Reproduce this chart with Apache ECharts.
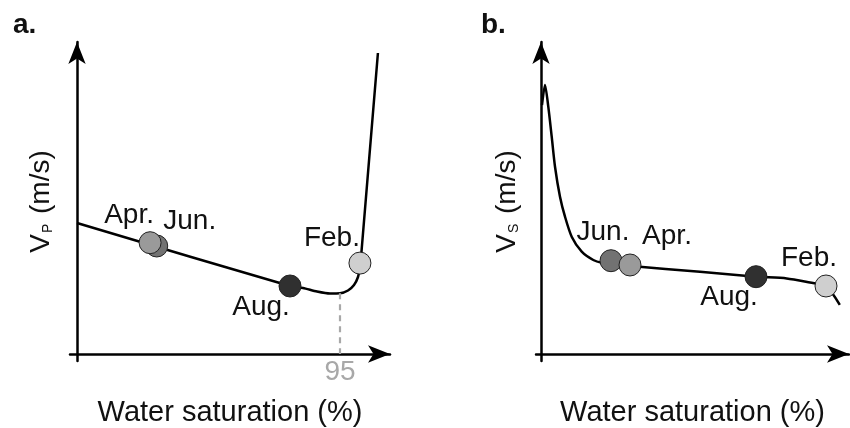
<!DOCTYPE html>
<html>
<head>
<meta charset="utf-8">
<script src="https://cdn.jsdelivr.net/npm/echarts@6/dist/echarts.min.js"></script>
<style>html,body{margin:0;padding:0;background:#fff;}#c{width:850px;height:428px;}</style>
</head>
<body>
<div id="c"></div>
<script>
// ---- Data (arbitrary units) ----
// Panel a: Vp vs water saturation
const curveA_x = [0, 76.94, 81.64, 86.69, 91.39, 95.0, 97.89, 100.06, 101.5, 102.2, 102.6, 102.9, 108.7];
const curveA_y = [43.67, 22.67, 22.0, 20.83, 20.17, 20.23, 21.17, 23.0, 25.67, 29.0, 32.33, 35.67, 100.33];
const monthsA = ['Jun.', 'Apr.', 'Aug.', 'Feb.'];
const pointsA_x = [28.8, 26.4, 76.94, 102.2];
const pointsA_y = [36.0, 37.1, 22.67, 30.3];
const criticalSat = 95;          // dashed marker value
const criticalSatVp = 20.23;     // curve value at 95 %
// Panel b: Vs vs water saturation
const curveB_x = [0.33, 1.33, 2.43, 3.57, 4.67, 6.33, 8.0, 10.23, 13.57, 17.43, 20.23, 23.33, 30.0, 53.0, 71.67, 81.9, 89.67, 95.0, 99.6];
const curveB_y = [83.0, 89.67, 82.43, 72.43, 62.43, 52.43, 45.77, 39.1, 34.1, 31.33, 30.43, 30.17, 29.33, 27.43, 25.77, 25.2, 23.8, 22.67, 16.4];
const monthsB = ['Jun.', 'Apr.', 'Aug.', 'Feb.'];
const pointsB_x = [23.33, 29.67, 71.67, 95.0];
const pointsB_y = [31.1, 29.67, 25.77, 22.67];
// Text
const xAxisName = 'Water saturation (%)';
const panelTitles = ['a.', 'b.'];

// ---- Styles / layout (kept separate from data) ----
const monthColor = { 'Apr.': '#9a9a9a', 'Jun.': '#727272', 'Aug.': '#303030', 'Feb.': '#cfcfcf' };
const labelOffsetA = { 'Apr.': [-21, -27], 'Jun.': [33, -25], 'Aug.': [-29, 21], 'Feb.': [-28, -25] };
const labelOffsetB = { 'Apr.': [37, -29], 'Jun.': [-8, -28], 'Aug.': [-27, 21], 'Feb.': [-17, -28] };
const FONT = '"Liberation Sans", Arial, Helvetica, sans-serif';

function zip(xs, ys) { return xs.map((x, i) => [x, ys[i]]); }
function pointData(months, xs, ys, offsets) {
  return months.map((m, i) => ({
    value: [xs[i], ys[i]],
    itemStyle: { color: monthColor[m] },
    label: { offset: offsets[m], formatter: m }
  }));
}

const axisLineStyle = {
  show: true,
  onZero: true,
  symbol: ['none', 'arrow'],
  symbolSize: [13, 22],
  lineStyle: { color: '#000', width: 2.5 }
};
function xAxisCfg(gridIndex, min, max) {
  return {
    type: 'value', gridIndex, min, max,
    axisLine: axisLineStyle, axisTick: { show: false }, axisLabel: { show: false }, splitLine: { show: false },
    name: xAxisName, nameLocation: 'middle', nameGap: 37,
    nameTextStyle: { fontSize: 29, color: '#111', fontFamily: FONT }
  };
}
function yAxisCfg(gridIndex, sub) {
  return {
    type: 'value', gridIndex, min: -7 / 3, max: 104,
    axisLine: axisLineStyle, axisTick: { show: false }, axisLabel: { show: false }, splitLine: { show: false },
    name: '{v|V}{s|' + sub + '}{v| (m/s)}', nameLocation: 'middle', nameRotate: 90, nameGap: 15,
    nameTextStyle: {
      fontFamily: FONT, color: '#111',
      rich: {
        v: { fontSize: 28, color: '#111', fontFamily: FONT },
        s: { fontSize: 14, color: '#111', fontFamily: FONT, verticalAlign: 'bottom', padding: [0, 2, 0, 1] }
      }
    }
  };
}

const lineStyleCurve = { color: '#000', width: 2.5 };
const scatterCommon = {
  type: 'scatter', symbol: 'circle', symbolSize: 22,
  itemStyle: { borderColor: '#222', borderWidth: 1, opacity: 1 },
  label: { show: true, position: 'inside', fontSize: 28, color: '#111', fontFamily: FONT },
  emphasis: { disabled: true }, z: 5
};

const gridCommon = { containLabel: false, outerBoundsMode: 'none' };

const option = {
  animation: false,
  backgroundColor: '#fff',
  textStyle: { fontFamily: FONT },
  title: [
    { text: panelTitles[0], left: 8, top: 6, textStyle: { fontSize: 28, fontWeight: 'bold', color: '#111', fontFamily: FONT } },
    { text: panelTitles[1], left: 476, top: 6, textStyle: { fontSize: 28, fontWeight: 'bold', color: '#111', fontFamily: FONT } }
  ],
  grid: [
    Object.assign({ left: 70, right: 460, top: 42, bottom: 67 }, gridCommon),
    Object.assign({ left: 536, right: 1, top: 42, bottom: 67 }, gridCommon)
  ],
  xAxis: [xAxisCfg(0, -7 / 2.7684, 313 / 2.7684), xAxisCfg(1, -5 / 3, 308 / 3)],
  yAxis: [yAxisCfg(0, 'P'), yAxisCfg(1, 'S')],
  series: [
    {
      type: 'line', xAxisIndex: 0, yAxisIndex: 0, data: zip(curveA_x, curveA_y),
      symbol: 'none', smooth: 0.25, clip: false,
      lineStyle: lineStyleCurve, z: 3,
      markLine: {
        silent: true, symbol: 'none',
        lineStyle: { type: [6, 5], color: '#a8a8a8', width: 2.2 },
        label: { show: true, position: 'end', formatter: String(criticalSat), color: '#a8a8a8', fontSize: 28, fontFamily: FONT, distance: 4 },
        data: [[{ coord: [criticalSat, criticalSatVp] }, { coord: [criticalSat, 0] }]]
      }
    },
    Object.assign({}, scatterCommon, { xAxisIndex: 0, yAxisIndex: 0, data: pointData(monthsA, pointsA_x, pointsA_y, labelOffsetA) }),
    {
      type: 'line', xAxisIndex: 1, yAxisIndex: 1, data: zip(curveB_x, curveB_y),
      symbol: 'none', smooth: 0.25, clip: false,
      lineStyle: lineStyleCurve, z: 3
    },
    Object.assign({}, scatterCommon, { xAxisIndex: 1, yAxisIndex: 1, data: pointData(monthsB, pointsB_x, pointsB_y, labelOffsetB) })
  ]
};

const chart = echarts.init(document.getElementById('c'), null, { renderer: 'canvas' });
chart.setOption(option);
</script>
</body>
</html>
